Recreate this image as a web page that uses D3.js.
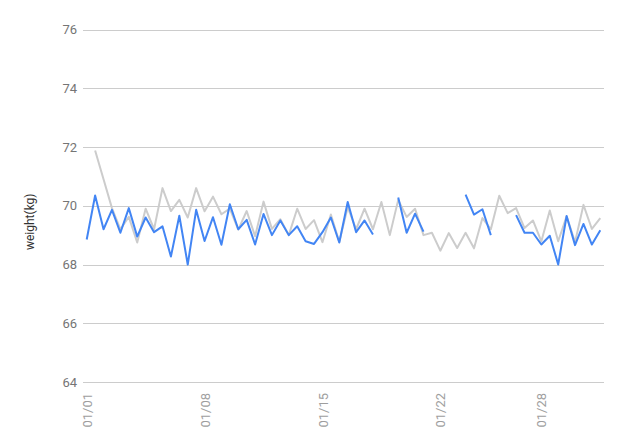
<!DOCTYPE html>
<html>
<head>
<meta charset="utf-8">
<script src="https://cdn.jsdelivr.net/npm/d3@7"></script>
<style>
  html, body { margin: 0; padding: 0; background: #fff; }
  svg { display: block; font-family: Roboto, "Noto Sans", sans-serif; }
</style>
</head>
<body>
<svg id="chart" width="627" height="444"></svg>
<script>
// Half-day readings, 01/01 AM through 01/31 PM
const startDate = new Date(2020, 0, 1, 0, 0);
const blueValues = [
  68.85, 70.35, 69.2, 69.86, 69.08, 69.92, 68.95, 69.6, 69.1, 69.3,
  68.27, 69.66, 68.0, 69.86, 68.8, 69.61, 68.67, 70.05, 69.2, 69.52,
  68.68, 69.72, 69.0, 69.5, 69.0, 69.3, 68.79, 68.7, 69.1, 69.6,
  68.75, 70.13, 69.1, 69.5, 69.02, null, null, 70.28, 69.08, 69.73,
  69.12, null, null, null, null, 70.38, 69.7, 69.88, 69.0, null,
  null, 69.68, 69.08, 69.08, 68.68, 68.98, 68.0, 69.65, 68.66, 69.38,
  68.68, 69.17
];
const grayValues = [
  null, 71.88, 70.9, 69.92, 69.2, 69.62, 68.75, 69.9, 69.2, 70.6,
  69.82, 70.2, 69.6, 70.6, 69.81, 70.31, 69.71, 69.9, 69.19, 69.82,
  68.96, 70.14, 69.21, 69.54, 69.0, 69.9, 69.21, 69.51, 68.76, 69.7,
  68.77, 69.95, 69.2, 69.9, 69.2, 70.13, 69.0, 70.2, 69.62, 69.9,
  69.0, 69.08, 68.47, 69.07, 68.56, 69.08, 68.55, 69.58, 69.2, 70.34,
  69.75, 69.92, 69.24, 69.5, 68.79, 69.84, 68.79, 69.64, 68.76, 70.03,
  69.21, 69.58
];
const yTicks = [64, 66, 68, 70, 72, 74, 76];
const xTickDates = ["2020-01-01", "2020-01-08", "2020-01-15", "2020-01-22", "2020-01-28"];
const yTitle = "weight(kg)";

(function () {
const HALF_DAY = 12 * 3600 * 1000;
const dates = blueValues.map((_, i) => new Date(startDate.getTime() + i * HALF_DAY));
const blue = blueValues.map((v, i) => ({ date: dates[i], v }));
const gray = grayValues.map((v, i) => ({ date: dates[i], v }));

const svg = d3.select("#chart");
const plotLeft = 83, plotRight = 604, plotTop = 29.5, plotBottom = 382;

const pad = 0.44 * HALF_DAY;
const x = d3.scaleTime()
  .domain([new Date(dates[0].getTime() - pad), new Date(dates[dates.length - 1].getTime() + pad)])
  .range([plotLeft, plotRight]);
const y = d3.scaleLinear().domain([64, 76]).range([plotBottom, plotTop]);

// Gridlines + y labels
const yAxis = d3.axisLeft(y).tickValues(yTicks).tickSize(-(plotRight - plotLeft)).tickPadding(6).tickFormat(d3.format("d"));
const gy = svg.append("g").attr("transform", `translate(${plotLeft},0)`).call(yAxis);
gy.select(".domain").remove();
gy.selectAll(".tick line").attr("stroke", "#cccccc").attr("stroke-width", 1).attr("shape-rendering", "crispEdges");
gy.selectAll(".tick text").attr("fill", "#757575").attr("font-size", 13).attr("font-family", "Roboto, sans-serif");

// X axis labels (rotated)
const xTicks = xTickDates.map(s => { const [yy, mm, dd] = s.split("-").map(Number); return new Date(yy, mm - 1, dd); });
const xAxis = d3.axisBottom(x).tickValues(xTicks).tickSize(0).tickFormat(d3.timeFormat("%m/%d"));
const gx = svg.append("g").attr("transform", `translate(0,${plotBottom})`).call(xAxis);
gx.select(".domain").remove();
gx.selectAll(".tick text")
  .attr("fill", "#9e9e9e")
  .attr("font-size", 13)
  .attr("font-family", "Roboto, sans-serif")
  .attr("text-anchor", "end")
  .attr("transform", "rotate(-90)")
  .attr("x", -11)
  .attr("y", 0)
  .attr("dy", "0.35em");

// Y title
svg.append("text")
  .attr("transform", `translate(34,${(plotTop + plotBottom) / 2 + 16}) rotate(-90)`)
  .attr("text-anchor", "middle")
  .attr("fill", "#333333")
  .attr("font-size", 12)
  .attr("font-family", "Roboto, sans-serif")
  .text(yTitle);

const line = d3.line()
  .defined(d => d.v != null)
  .x(d => x(d.date))
  .y(d => y(d.v));

svg.append("path").datum(gray)
  .attr("fill", "none").attr("stroke", "#cccccc").attr("stroke-width", 2)
  .attr("stroke-linejoin", "round")
  .attr("d", line);

svg.append("path").datum(blue)
  .attr("fill", "none").attr("stroke", "#4285f4").attr("stroke-width", 2)
  .attr("stroke-linejoin", "round")
  .attr("d", line);
})();
</script>
</body>
</html>
